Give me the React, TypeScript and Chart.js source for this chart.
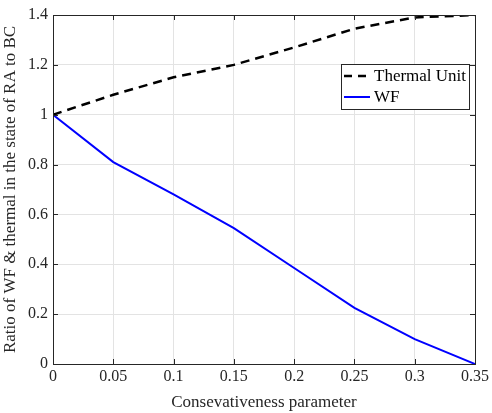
import React, { useEffect, useRef } from "react";
import { Chart, registerables } from "chart.js";

Chart.register(...registerables);

const xValues = [0, 0.05, 0.1, 0.15, 0.2, 0.25, 0.3, 0.35];
const thermalValues = [1.0, 1.08, 1.15, 1.2, 1.27, 1.345, 1.39, 1.4];
const wfValues = [1.0, 0.81, 0.68, 0.545, 0.385, 0.225, 0.1, 0.0];
const xTicks = [0, 0.05, 0.1, 0.15, 0.2, 0.25, 0.3, 0.35];
const yTicks = [0, 0.2, 0.4, 0.6, 0.8, 1, 1.2, 1.4];
const seriesNames = ["Thermal Unit", "WF"];
const xTitle = "Consevativeness parameter";
const yTitle = "Ratio of WF & thermal in the state of RA to BC";

const FONT = "'Liberation Serif', 'Times New Roman', serif";

const fmt = (v: number) => String(Number(v.toFixed(2)));

const framePlugin = {
  id: "frame",
  afterDatasetsDraw(chart: any) {
    const { ctx, chartArea: a, scales } = chart;
    ctx.save();
    ctx.strokeStyle = "#262626";
    ctx.lineWidth = 1;
    ctx.strokeRect(Math.round(a.left) + 0.5, Math.round(a.top) + 0.5, Math.round(a.right - a.left), Math.round(a.bottom - a.top));
    const tl = 5;
    ctx.beginPath();
    xTicks.forEach((t) => {
      const x = Math.round(scales.x.getPixelForValue(t)) + 0.5;
      ctx.moveTo(x, a.bottom);
      ctx.lineTo(x, a.bottom - tl);
      ctx.moveTo(x, a.top);
      ctx.lineTo(x, a.top + tl);
    });
    yTicks.forEach((t) => {
      const y = Math.round(scales.y.getPixelForValue(t)) + 0.5;
      ctx.moveTo(a.left, y);
      ctx.lineTo(a.left + tl, y);
      ctx.moveTo(a.right, y);
      ctx.lineTo(a.right - tl, y);
    });
    ctx.stroke();

    // legend
    const lx = 341, ly = 64, lw = 128, lh = 45;
    ctx.fillStyle = "#ffffff";
    ctx.fillRect(lx, ly, lw, lh);
    ctx.strokeStyle = "#262626";
    ctx.strokeRect(lx + 0.5, ly + 0.5, lw, lh);
    ctx.font = `17px ${FONT}`;
    ctx.fillStyle = "#000";
    ctx.textBaseline = "middle";
    ctx.textAlign = "left";
    const rows = [
      { y: ly + 12, color: "#000000", dash: [8, 6], w: 2.5 },
      { y: ly + 33, color: "#0000ff", dash: [], w: 2 },
    ];
    rows.forEach((r, i) => {
      ctx.beginPath();
      ctx.setLineDash(r.dash);
      ctx.strokeStyle = r.color;
      ctx.lineWidth = r.w;
      ctx.moveTo(lx + 3, r.y);
      ctx.lineTo(lx + 25 + (i === 1 ? 4 : 0), r.y);
      ctx.stroke();
      ctx.setLineDash([]);
      ctx.fillText(seriesNames[i], lx + 33, r.y + 1);
    });
    ctx.restore();
  },
};

export default function App() {
  const ref = useRef<HTMLCanvasElement>(null);
  useEffect(() => {
    const chart = new Chart(ref.current!, {
      type: "line",
      data: {
        datasets: [
          {
            label: seriesNames[0],
            data: xValues.map((x, i) => ({ x, y: thermalValues[i] })),
            borderColor: "#000000",
            borderWidth: 2.5,
            borderDash: [9, 6],
            pointRadius: 0,
            tension: 0,
          },
          {
            label: seriesNames[1],
            data: xValues.map((x, i) => ({ x, y: wfValues[i] })),
            borderColor: "#0000ff",
            borderWidth: 2,
            pointRadius: 0,
            tension: 0,
          },
        ],
      },
      options: {
        animation: false,
        responsive: false,
        maintainAspectRatio: false,
        layout: { padding: { top: 15, right: 15, left: 0, bottom: 0 } },
        plugins: { legend: { display: false }, tooltip: { enabled: false } },
        scales: {
          x: {
            type: "linear",
            min: 0,
            max: 0.35,
            afterBuildTicks: (s: any) => {
              s.ticks = xTicks.map((v) => ({ value: v }));
            },
            afterFit: (s: any) => {
              s.height = 49;
            },
            grid: { color: "#e3e3e3", drawTicks: false, tickLength: 0 },
            border: { display: false },
            ticks: {
              font: { family: FONT, size: 16 },
              color: "#262626",
              padding: 3,
              maxRotation: 0,
              callback: (v: any) => fmt(Number(v)),
            },
            title: {
              display: true,
              text: xTitle,
              font: { family: FONT, size: 17 },
              color: "#262626",
              padding: { top: 1, bottom: 0 },
            },
          },
          y: {
            type: "linear",
            min: 0,
            max: 1.4,
            afterBuildTicks: (s: any) => {
              s.ticks = yTicks.map((v) => ({ value: v }));
            },
            afterFit: (s: any) => {
              s.width = 53;
            },
            grid: { color: "#e3e3e3", drawTicks: false, tickLength: 0 },
            border: { display: false },
            ticks: {
              font: { family: FONT, size: 16 },
              color: "#262626",
              padding: 5,
              callback: (v: any) => fmt(Number(v)),
            },
            title: {
              display: true,
              text: yTitle,
              font: { family: FONT, size: 17 },
              color: "#262626",
              padding: { top: 0, bottom: 2 },
            },
          },
        },
      },
      plugins: [framePlugin],
    } as any);
    return () => chart.destroy();
  }, []);
  return (
    <div style={{ position: "fixed", left: 0, top: 0, width: 492, height: 413, background: "#fff" }}>
      <canvas ref={ref} width={492} height={413} style={{ width: 492, height: 413 }} />
    </div>
  );
}
